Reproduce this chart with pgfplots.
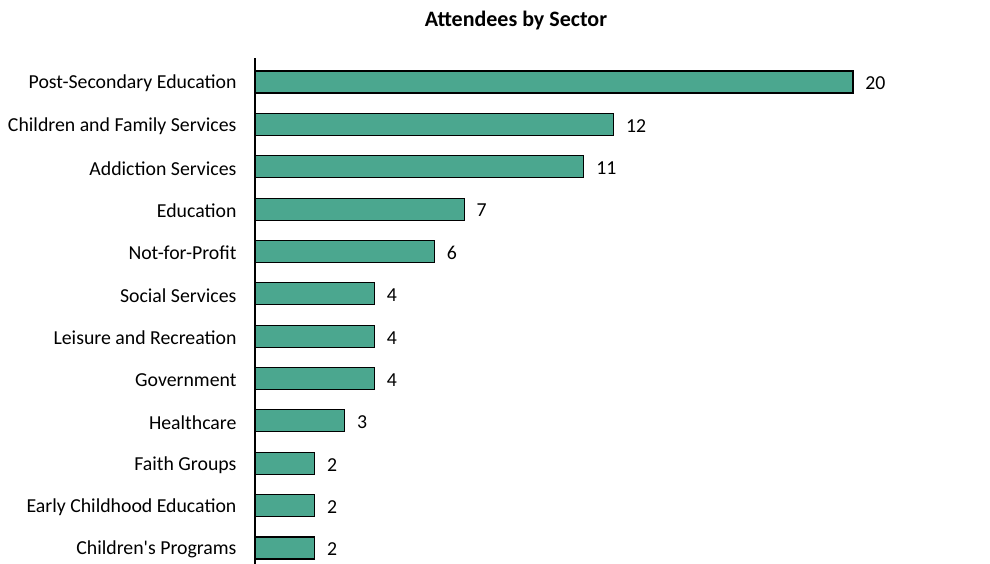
\documentclass[border=0pt]{standalone}
\usepackage{pgfplots}
\pgfplotsset{compat=1.18}
\usepackage{fontspec}
\setmainfont{Carlito}
\definecolor{barc}{RGB}{75,167,143}
\begin{document}
\begin{tikzpicture}[x=1pt,y=1pt]
\useasboundingbox (0,0) rectangle (990,-564);
\node[font=\bfseries\fontsize{22}{26}\selectfont] at (516,-21) {Attendees by Sector};
\begin{axis}[
  at={(255pt,-58pt)}, anchor=north west,
  scale only axis, width=598pt, height=513.3pt,
  xmin=0, xmax=20, ymin=-0.567, ymax=11.55,
  y dir=reverse,
  xbar, bar width=22pt,
  axis x line=none, axis y line*=left,
  axis line style={-, line width=1.2pt},
  ytick={0,...,11},
  yticklabels={Post-Secondary Education, Children and Family Services, Addiction Services, Education, Not-for-Profit, Social Services, Leisure and Recreation, Government, Healthcare, Faith Groups, Early Childhood Education, Children\textquotesingle s Programs},
  major tick length=0pt,
  ytick style={draw=none},
  yticklabel style={font=\fontsize{19.8}{23}\selectfont, xshift=-15pt, yshift=-1.5pt},
  /pgf/number format/assume math mode=true,
  nodes near coords,
  nodes near coords style={font=\fontsize{19.8}{23}\selectfont, xshift=8.5pt, yshift=-1.5pt, black},
  clip=false,
]
\addplot[fill=barc, draw=black, line width=1.1pt] coordinates {
(20,0) (12,1) (11,2) (7,3) (6,4) (4,5) (4,6) (4,7) (3,8) (2,9) (2,10) (2,11)};
\end{axis}
\end{tikzpicture}
\end{document}
